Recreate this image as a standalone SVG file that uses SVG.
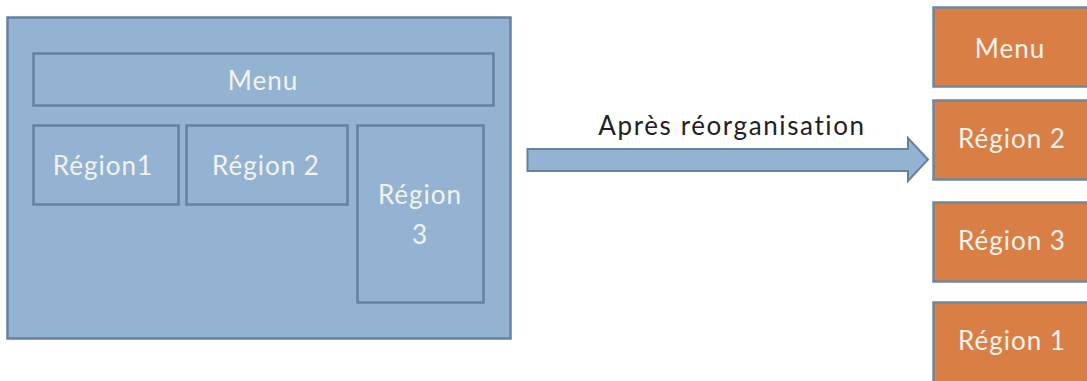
<svg xmlns="http://www.w3.org/2000/svg" width="1087" height="381" viewBox="0 0 1087 381">
<style>
.blue{fill:#94b3d2;stroke:#6482a0;stroke-width:2.5}
.orange{fill:#d97f46;stroke:#6f88a0;stroke-width:2.5}
.t{font-family:Lato,"Noto Sans",sans-serif;font-size:26px;letter-spacing:1px;fill:#f3f3ee;text-anchor:middle}
.lbl{font-family:Lato,"Noto Sans",sans-serif;font-size:26px;letter-spacing:1.6px;fill:#222;text-anchor:middle}
</style>
<rect width="1087" height="381" fill="#ffffff"/>
<g id="container"><rect class="blue" x="7.5" y="17.5" width="503" height="321"/></g>
<g id="menu-left"><rect class="blue" x="33.5" y="53.5" width="460" height="52"/><text class="t" x="263" y="90">Menu</text></g>
<g id="region1-left"><rect class="blue" x="33.5" y="125.5" width="145" height="79"/><text class="t" x="103" y="175">Région1</text></g>
<g id="region2-left"><rect class="blue" x="186.5" y="125.5" width="161" height="79"/><text class="t" x="266" y="175">Région 2</text></g>
<g id="region3-left"><rect class="blue" x="357.5" y="125.5" width="126" height="177"/><text class="t" x="420" y="204">Région</text><text class="t" x="420" y="244">3</text></g>
<g id="connectors">
<polygon points="527.5,149 908,149 908,138 928,159.5 908,181 908,171 527.5,171" fill="#94b3d2" stroke="#6482a0" stroke-width="2"/>
<text class="lbl" x="732" y="135">Après réorganisation</text>
</g>
<g id="menu-right"><rect class="orange" x="933.5" y="7.5" width="160" height="79"/><text class="t" x="1010" y="58">Menu</text></g>
<g id="region2-right"><rect class="orange" x="933.5" y="100.5" width="160" height="79"/><text class="t" x="1012" y="148">Région 2</text></g>
<g id="region3-right"><rect class="orange" x="933.5" y="202.5" width="160" height="79"/><text class="t" x="1012" y="250">Région 3</text></g>
<g id="region1-right"><rect class="orange" x="933.5" y="302.5" width="160" height="90"/><text class="t" x="1012" y="350">Région 1</text></g>
</svg>
